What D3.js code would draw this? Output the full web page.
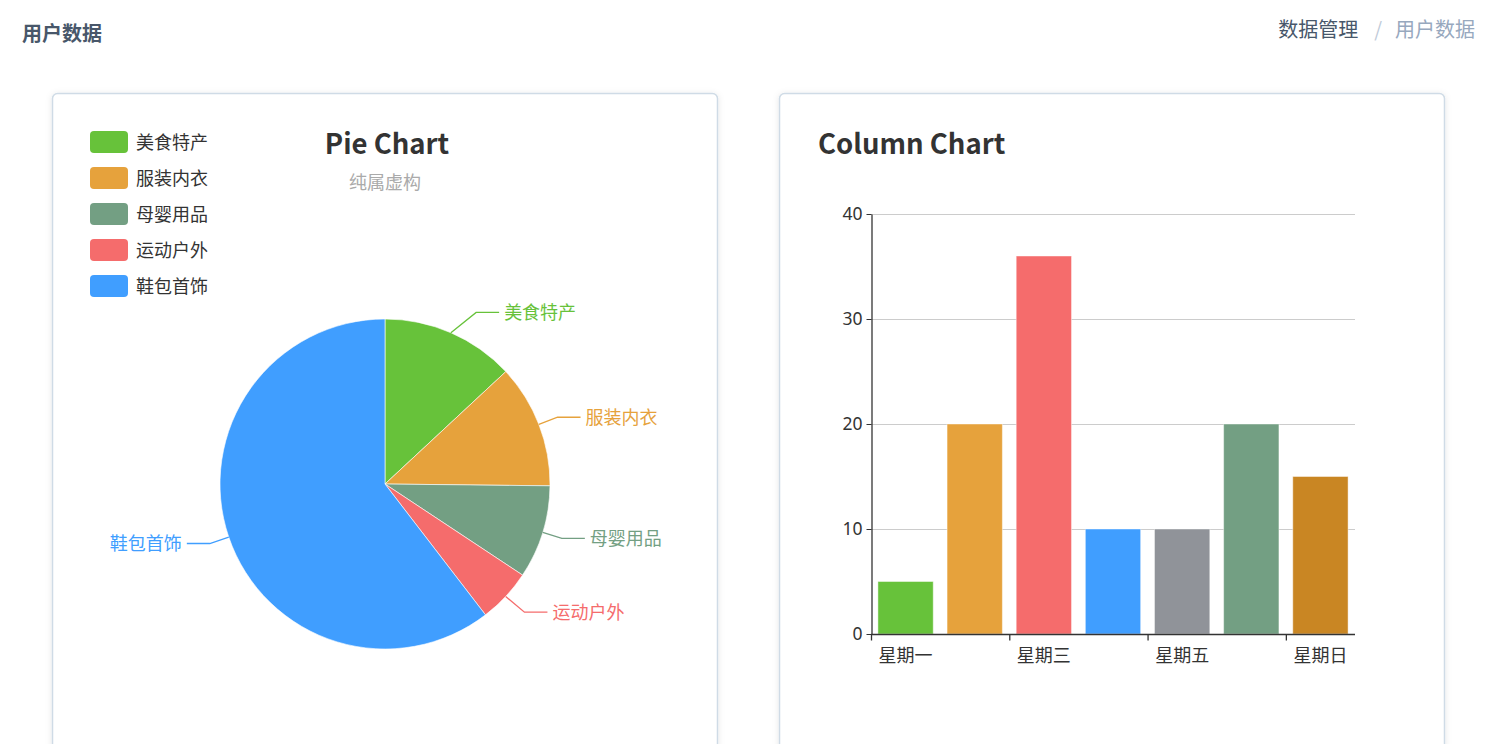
<!DOCTYPE html>
<html><head><meta charset="utf-8">
<script src="https://cdn.jsdelivr.net/npm/d3@7"></script>
<style>
html,body{margin:0;padding:0;background:#fff;overflow:hidden}
svg text{font-family:"Microsoft YaHei","Noto Sans CJK SC","Noto Sans",sans-serif}
</style></head>
<body>
<svg id="page" width="1501" height="744"></svg>
<script>
// ---- data ----
const pieCategories = ["美食特产", "服装内衣", "母婴用品", "运动户外", "鞋包首饰"];
const pieValues = [335, 310, 234, 135, 1548];
const pieColors = ["#67c23a", "#e6a23c", "#739f83", "#f56c6c", "#409eff"];

const barCategories = ["星期一", "星期二", "星期三", "星期四", "星期五", "星期六", "星期日"];
const barValues = [5, 20, 36, 10, 10, 20, 15];
const barColors = ["#67c23a", "#e6a23c", "#f56c6c", "#409eff", "#909399", "#739f83", "#c98623"];
const yTicks = [0, 10, 20, 30, 40];

const svg = d3.select("#page");

// ---- header ----
svg.append("text").attr("x", 22).attr("y", 41).attr("font-size", 20).attr("font-weight", "bold")
  .attr("fill", "#48576a").text("用户数据");
const bc = svg.append("text").attr("x", 1475).attr("y", 37).attr("font-size", 20).attr("text-anchor", "end");
bc.append("tspan").attr("fill", "#48576a").text("数据管理");
bc.append("tspan").attr("fill", "#bfcbd9").attr("dx", 16).text("/");
bc.append("tspan").attr("fill", "#97a8be").attr("dx", 13).text("用户数据");

// ---- cards ----
const defs = svg.append("defs");
const f = defs.append("filter").attr("id", "sh").attr("x", "-5%").attr("y", "-5%").attr("width", "110%").attr("height", "110%");
f.append("feDropShadow").attr("dx", 0).attr("dy", 1).attr("stdDeviation", 3).attr("flood-color", "#000").attr("flood-opacity", 0.1);
[[52.5, 93.5], [779.5, 93.5]].forEach(([x, y]) => {
  svg.append("rect").attr("x", x).attr("y", y).attr("width", 665).attr("height", 700)
    .attr("rx", 5).attr("fill", "#fff").attr("stroke", "#cfdbe6").attr("stroke-width", 1.5).attr("filter", "url(#sh)");
});

// ---- pie chart ----
svg.append("text").attr("x", 387).attr("y", 154).attr("text-anchor", "middle").attr("font-size", 27.5)
  .attr("font-weight", "bold").attr("fill", "#333").text("Pie Chart");
svg.append("text").attr("x", 385).attr("y", 189).attr("text-anchor", "middle").attr("font-size", 18)
  .attr("fill", "#aaa").text("纯属虚构");

// legend
const leg = svg.append("g");
pieCategories.forEach((c, i) => {
  const g = leg.append("g").attr("transform", `translate(90,${131 + i * 36})`);
  g.append("rect").attr("width", 38).attr("height", 22).attr("rx", 4).attr("fill", pieColors[i]);
  g.append("text").attr("x", 46).attr("y", 17.5).attr("font-size", 18).attr("fill", "#333").text(c);
});

const cx = 385, cy = 484, R = 165;
const pie = d3.pie().sort(null).value(d => d)(pieValues);
const arc = d3.arc().innerRadius(0).outerRadius(R);
const pg = svg.append("g").attr("transform", `translate(${cx},${cy})`);
pg.selectAll("path").data(pie).join("path")
  .attr("d", arc).attr("fill", (d, i) => pieColors[i]).attr("stroke", "#fff").attr("stroke-width", 0.6);

// labels with label lines
const len1 = 20, len2 = 23, maxSlope = Math.tan(36 * Math.PI / 180);
pie.forEach((d, i) => {
  const a = (d.startAngle + d.endAngle) / 2;
  const sx = Math.sin(a), sy = -Math.cos(a);
  const p0 = [R * sx, R * sy];
  let p1 = [(R + len1) * sx, (R + len1) * sy];
  const dy = p1[1] - p0[1];
  let dx = p1[0] - p0[0];
  if (Math.abs(dy) > Math.abs(dx) * maxSlope) {
    dx = Math.sign(dx) * Math.abs(dy) / maxSlope;
    p1 = [p0[0] + dx, p1[1] + Math.sign(dy) * 2];
  }
  const dir = sx >= 0 ? 1 : -1;
  const p2 = [p1[0] + dir * len2, p1[1]];
  pg.append("polyline").attr("points", [p0, p1, p2].map(p => p.join(",")).join(" "))
    .attr("fill", "none").attr("stroke", pieColors[i]).attr("stroke-width", 1.3);
  pg.append("text").attr("x", p2[0] + dir * 5).attr("y", p2[1]).attr("dy", "0.36em")
    .attr("text-anchor", dir > 0 ? "start" : "end").attr("font-size", 18)
    .attr("fill", pieColors[i]).text(pieCategories[i]);
});

// ---- column chart ----
svg.append("text").attr("x", 818).attr("y", 154).attr("font-size", 27.5)
  .attr("font-weight", "bold").attr("fill", "#333").text("Column Chart");

const x = d3.scaleBand().domain(barCategories).range([871, 1355]).paddingInner(0.2).paddingOuter(0.1);
const xb = d3.scaleBand().domain(barCategories).range([871, 1355]);
const y = d3.scaleLinear().domain([0, 40]).range([634, 214]);

// grid
svg.append("g").selectAll("line").data(yTicks.slice(1)).join("line")
  .attr("x1", 871).attr("x2", 1355).attr("y1", d => y(d) + 0.5).attr("y2", d => y(d) + 0.5)
  .attr("stroke", "#ccc").attr("stroke-width", 1);

// bars
svg.append("g").selectAll("rect").data(barValues).join("rect")
  .attr("x", (d, i) => x(barCategories[i])).attr("width", x.bandwidth())
  .attr("y", d => y(d)).attr("height", d => y(0) - y(d))
  .attr("fill", (d, i) => barColors[i])
  .attr("stroke", "rgba(255,255,255,0.45)").attr("stroke-width", 1);

// y axis
const ya = svg.append("g").attr("transform", "translate(871.5,0)")
  .call(d3.axisLeft(y).tickValues(yTicks).tickSize(5).tickSizeOuter(0).tickPadding(4));
ya.select(".domain").attr("stroke", "#333").attr("stroke-width", 1.3);
ya.selectAll(".tick line").attr("stroke", "#333");
ya.selectAll(".tick text").attr("font-size", 17.5).attr("fill", "#333")
  .style("font-family", '"Noto Sans","DejaVu Sans",sans-serif');

// x axis: labels every other category, ticks at band start
const xa = svg.append("g").attr("transform", `translate(0,${y(0) + 0.5})`);
xa.append("line").attr("x1", 871).attr("x2", 1355).attr("stroke", "#333").attr("stroke-width", 1.3);
const shown = barCategories.filter((c, i) => i % 2 === 0);
xa.selectAll("line.tk").data(shown).join("line").attr("class", "tk")
  .attr("x1", d => xb(d) + 0.5).attr("x2", d => xb(d) + 0.5).attr("y1", 0).attr("y2", 6)
  .attr("stroke", "#333").attr("stroke-width", 1.3);
xa.selectAll("text").data(shown).join("text")
  .attr("x", d => xb(d) + xb.bandwidth() / 2).attr("y", 21).attr("dy", "0.36em")
  .attr("text-anchor", "middle").attr("font-size", 18).attr("fill", "#333").text(d => d);
</script>
</body></html>
